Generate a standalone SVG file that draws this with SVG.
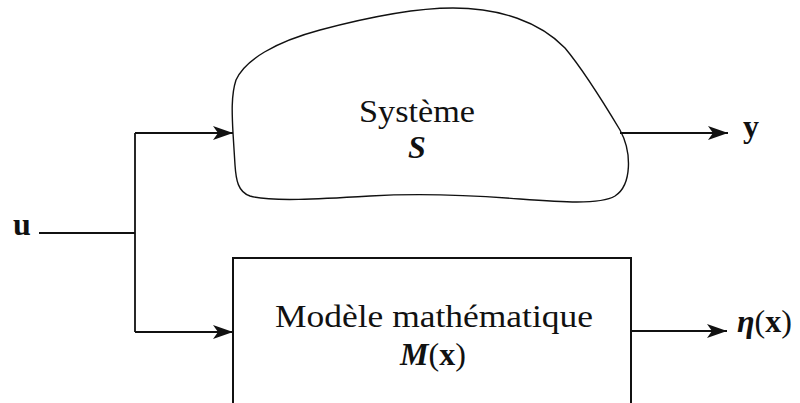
<svg xmlns="http://www.w3.org/2000/svg" width="800" height="403" viewBox="0 0 800 403">
<style>
.ln{fill:none;stroke:#111;stroke-width:1.8}
.bd{fill:none;stroke:#111;stroke-width:1.4}
.bx{fill:#fff;stroke:#111;stroke-width:2}
.t{font-family:"Liberation Serif","DejaVu Serif",serif;font-size:32px;fill:#111}
.b{font-weight:bold}
.bi{font-weight:bold;font-style:italic}
</style>
<defs>
<marker id="ah" viewBox="0 0 20 14" refX="20" refY="7" markerWidth="20" markerHeight="14" markerUnits="userSpaceOnUse" orient="auto">
<path d="M0,0 L20,7 L0,14 L5,7 Z" fill="#111"/>
</marker>
</defs>
<rect width="800" height="403" fill="#fff"/>
<g id="connectors">
<line class="ln" x1="39" y1="233" x2="135" y2="233"/>
<line class="ln" x1="135" y1="133" x2="135" y2="332"/>
<line class="ln" x1="135" y1="133" x2="233" y2="133" marker-end="url(#ah)"/>
<line class="ln" x1="135" y1="332" x2="233" y2="332" marker-end="url(#ah)"/>
<line class="ln" x1="620" y1="133" x2="728" y2="133" marker-end="url(#ah)"/>
<line class="ln" x1="631" y1="331" x2="727" y2="331" marker-end="url(#ah)"/>
</g>
<g id="systeme">
<path class="bd" d="M233,133 C232,115 231,95 236,80 C245,60 275,42 320,30 C365,18 415,8 453,8 C500,8 540,22 565,48 C585,72 605,105 620,130 C632,152 632,185 615,196 C600,205 560,202 520,199 C470,195 420,193 370,196 C320,199 270,202 250,196 C238,192 236,180 235,165 Z"/>
<text class="t" x="417" y="122" text-anchor="middle" textLength="116" lengthAdjust="spacingAndGlyphs">Système</text>
<text class="t bi" x="417" y="158" text-anchor="middle">S</text>
</g>
<g id="modele">
<rect class="bx" x="233" y="258" width="398" height="160"/>
<text class="t" x="434" y="327" text-anchor="middle" textLength="318" lengthAdjust="spacingAndGlyphs">Modèle mathématique</text>
<text class="t" x="433" y="365" text-anchor="middle"><tspan class="bi">M</tspan>(<tspan class="b">x</tspan>)</text>
</g>
<g id="input-u">
<text class="t b" x="13" y="235">u</text>
</g>
<g id="output-y">
<text class="t b" x="743" y="137">y</text>
</g>
<g id="output-eta">
<text class="t" x="737" y="332"><tspan class="bi">η</tspan>(<tspan class="b">x</tspan>)</text>
</g>
</svg>
